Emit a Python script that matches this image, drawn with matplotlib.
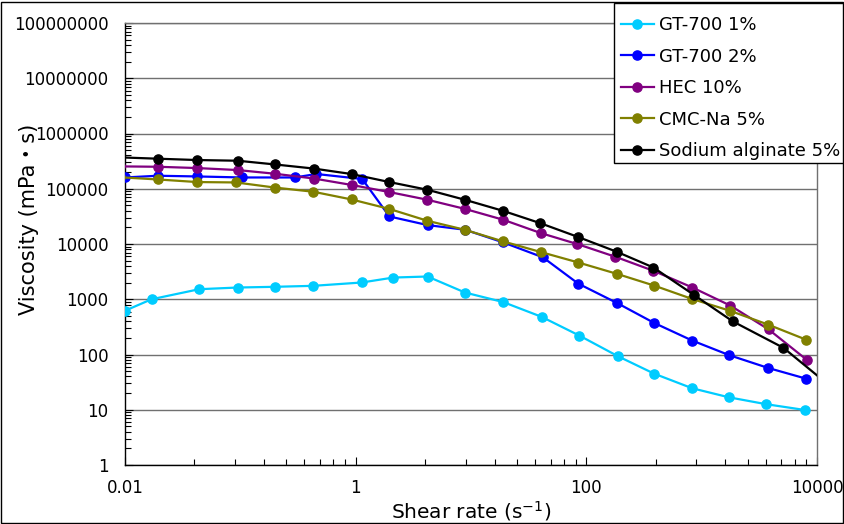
import numpy as np
import matplotlib
matplotlib.use("Agg")
import matplotlib.pyplot as plt
from matplotlib.patches import Rectangle
from matplotlib.ticker import FixedLocator, NullFormatter

# Shear rate (1/s) and viscosity (mPa·s) for each sample
gt1_rate = [0.01, 0.017, 0.044, 0.095, 0.2, 0.43, 1.13, 2.12, 4.2, 8.9,
            19, 41, 87, 188, 387, 827, 1720, 3630, 7850]
gt1_visc = [620, 1000, 1520, 1630, 1680, 1750, 2010, 2470, 2580, 1320,
            890, 480, 220, 93, 45, 24.5, 16.8, 12.6, 9.9]

gt2_rate = [0.01, 0.0192, 0.042, 0.104, 0.297, 0.456, 1.14, 1.96, 4.2, 8.9,
            19.1, 42, 85, 185, 387, 827, 1740, 3780, 8020]
gt2_visc = [160000, 172000, 167000, 160000, 160000, 185000, 150000, 31500,
            22000, 18100, 10650, 5740, 1920, 853, 373, 179, 97, 57, 36.6]

hec_rate = [0.009, 0.0192, 0.0421, 0.0949, 0.199, 0.436, 0.925, 1.96, 4.19,
            8.89, 19.1, 40.5, 83.7, 179, 382, 832, 1770, 3800, 8170]
hec_visc = [254000, 250000, 237000, 218000, 187000, 153000, 117000, 87100,
            63200, 43100, 27400, 15700, 9960, 5860, 3270, 1630, 769, 285, 79.8]

cmc_rate = [0.009, 0.0192, 0.0423, 0.0918, 0.199, 0.429, 0.921, 1.96, 4.19,
            8.85, 19.1, 40.5, 85.4, 184, 386, 830, 1750, 3780, 8020]
cmc_visc = [161500, 147300, 132200, 130000, 105100, 88300, 64000, 43100,
            26300, 18080, 11100, 7130, 4620, 2885, 1771, 1009, 621, 347, 186]

alg_rate = [0.009, 0.0195, 0.0421, 0.0949, 0.199, 0.433, 0.921, 1.96, 4.19,
            8.85, 18.9, 39.7, 85.4, 184, 382, 861, 1860, 5120, 11500]
alg_visc = [370000, 349500, 331000, 321500, 275500, 232000, 184600, 132200,
            95900, 63200, 39900, 23900, 13330, 7220, 3750, 1190, 398, 132, 33]

labels = ["GT-700 1%", "GT-700 2%", "HEC 10%", "CMC-Na 5%", "Sodium alginate 5%"]
colors = ["#00CCFF", "#0000FF", "#800080", "#808000", "#000000"]

x_ticks = [0.01, 1, 100, 10000]
x_ticklabels = ["0.01", "1", "100", "10000"]
y_ticks = [1, 10, 100, 1000, 10000, 100000, 1000000, 10000000, 100000000]
y_ticklabels = ["1", "10", "100", "1000", "10000", "100000", "1000000",
                "10000000", "100000000"]

plt.rcParams["font.family"] = ["DejaVu Sans", "Noto Sans CJK JP"]

W, H = 845, 524
fig = plt.figure(figsize=(W / 100, H / 100), dpi=100)
fig.patch.set_facecolor("white")
ax = fig.add_axes([125 / W, 1 - 465 / H, (817 - 125) / W, (465 - 23) / H])

series = [(gt1_rate, gt1_visc), (gt2_rate, gt2_visc), (hec_rate, hec_visc),
          (cmc_rate, cmc_visc), (alg_rate, alg_visc)]
for (x, y), lab, col in zip(series, labels, colors):
    ax.plot(x, y, "-o", color=col, lw=1.6, ms=6.6, mec=col, label=lab, zorder=3)

ax.set_xscale("log")
ax.set_yscale("log")
ax.set_xlim(0.01, 10000)
ax.set_ylim(1, 1e8)

# x axis: labels every two decades, minor ticks at k^2 steps
ax.xaxis.set_major_locator(FixedLocator(x_ticks))
ax.set_xticklabels(x_ticklabels)
x_minor = [m * k * k for m in [0.01, 1, 100] for k in range(2, 10)]
ax.xaxis.set_minor_locator(FixedLocator(x_minor))
ax.xaxis.set_minor_formatter(NullFormatter())

ax.yaxis.set_major_locator(FixedLocator(y_ticks))
ax.set_yticklabels(y_ticklabels)
y_minor = [10.0 ** e * k for e in range(0, 8) for k in range(2, 10)]
ax.yaxis.set_minor_locator(FixedLocator(y_minor))
ax.yaxis.set_minor_formatter(NullFormatter())

ax.tick_params(which="both", direction="in", colors="black", width=0.8,
               labelsize=12)
ax.tick_params(which="major", length=6)
ax.tick_params(which="minor", length=4)
ax.tick_params(axis="y", pad=12)
ax.tick_params(axis="x", pad=10)

ax.grid(True, axis="y", which="major", color="#707070", lw=1.0)
ax.set_axisbelow(True)
for side in ["left", "bottom"]:
    ax.spines[side].set_color("black")
    ax.spines[side].set_linewidth(1.0)
for side in ["top", "right"]:
    ax.spines[side].set_color("#707070")
    ax.spines[side].set_linewidth(1.0)

ax.set_ylabel("Viscosity (mPa・s)", fontsize=15, va="center")
ax.yaxis.set_label_coords(-0.139, 0.555)
ax.set_xlabel(r"Shear rate (s$^{-1}$)", fontsize=14.5, va="center")
ax.xaxis.set_label_coords(0.5, -0.104)

# legend box pinned to the top-right corner, entries placed inside it
fig.add_artist(Rectangle((614 / W, 1 - 163 / H), 240 / W, 160 / H,
                         transform=fig.transFigure, facecolor="white",
                         edgecolor="black", lw=1.0, zorder=4))
leg = fig.legend(loc="upper left", bbox_to_anchor=(621 / W, 1 - 16 / H),
                 fontsize=13, frameon=False, handlelength=1.8,
                 handletextpad=0.3, labelspacing=0.75, borderpad=0,
                 borderaxespad=0)
leg.set_zorder(5)

# outer chart border
fig.add_artist(Rectangle((1.5 / W, 1.5 / H), (W - 3) / W, (H - 3) / H,
                         transform=fig.transFigure, fill=False,
                         edgecolor="black", lw=1.0, zorder=6))

fig.savefig("out.png", dpi=100)
